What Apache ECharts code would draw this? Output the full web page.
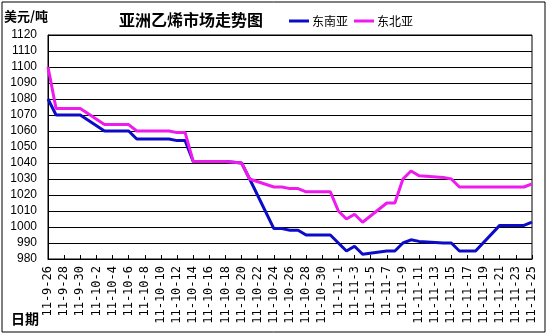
<!DOCTYPE html>
<html>
<head>
<meta charset="utf-8">
<script src="https://cdn.jsdelivr.net/npm/echarts@6/dist/echarts.min.js"></script>
<style>
html,body{margin:0;padding:0;background:#fff;}
#chart{width:549px;height:335px;}
</style>
</head>
<body>
<div id="chart"></div>
<script>
// Daily dates (year-month-day), every calendar day from 2011-9-26 to 2011-11-25
var dates = [
  '11-9-26','11-9-27','11-9-28','11-9-29','11-9-30',
  '11-10-1','11-10-2','11-10-3','11-10-4','11-10-5','11-10-6','11-10-7','11-10-8','11-10-9','11-10-10',
  '11-10-11','11-10-12','11-10-13','11-10-14','11-10-15','11-10-16','11-10-17','11-10-18','11-10-19','11-10-20',
  '11-10-21','11-10-22','11-10-23','11-10-24','11-10-25','11-10-26','11-10-27','11-10-28','11-10-29','11-10-30','11-10-31',
  '11-11-1','11-11-2','11-11-3','11-11-4','11-11-5','11-11-6','11-11-7','11-11-8','11-11-9','11-11-10',
  '11-11-11','11-11-12','11-11-13','11-11-14','11-11-15','11-11-16','11-11-17','11-11-18','11-11-19','11-11-20',
  '11-11-21','11-11-22','11-11-23','11-11-24','11-11-25'
];

// Ethylene prices, USD/ton; null = no quote that day (weekends / holidays)
var southeastAsia = [
  1080,1070,1070,1070,1070,
  null,null,1060,1060,1060,1060,1055,null,null,1055,
  1055,1054,1054,1041,null,null,1041,1041,null,1040,
  1030,null,null,999,999,998,998,995,null,null,995,
  990,985,988,983,null,null,985,985,990,992,
  991,null,null,990,990,985,985,985,null,null,
  1001,1001,1001,1001,1003
];
var northeastAsia = [
  1100,1074,1074,1074,1074,
  null,null,1064,1064,1064,1064,1060,null,null,1060,
  1060,1059,1059,1041,null,null,1041,1041,null,1040,
  1030,null,null,1025,1025,1024,1024,1022,null,null,1022,
  1010,1005,1008,1003,null,null,1015,1015,1030,1035,
  1032,null,null,1031,1030,1025,1025,1025,null,null,
  1025,1025,1025,1025,1027
];

var seriesNames = ['东南亚', '东北亚'];
var yMin = 980, yMax = 1120, yStep = 10;

var chart = echarts.init(document.getElementById('chart'));
var cjk = '"Noto Sans CJK SC", sans-serif';

chart.setOption({
  backgroundColor: '#ffffff',
  animation: false,
  title: {
    text: '亚洲乙烯市场走势图',
    left: 114, top: 7,
    textStyle: { fontFamily: cjk, fontSize: 16, fontWeight: 'bold', color: '#000' }
  },
  legend: {
    data: seriesNames,
    left: 284, top: 10,
    icon: 'rect',
    itemWidth: 20, itemHeight: 3,
    itemGap: 6,
    textStyle: { fontFamily: cjk, fontSize: 12, color: '#000', padding: [0, 0, 0, -2] }
  },
  graphic: [
    { type: 'rect', shape: { x: 2, y: 2, width: 543, height: 330 },
      style: { fill: 'none', stroke: '#000', lineWidth: 1 }, silent: true },
    { type: 'text', left: 4, top: 10,
      style: { text: '美元/吨', font: 'bold 13px "Noto Sans CJK SC", sans-serif', fill: '#000' } },
    { type: 'text', left: 11, top: 312,
      style: { text: '日期', font: 'bold 14px "Noto Sans CJK SC", sans-serif', fill: '#000' } }
  ],
  grid: {
    left: 48, right: 17, top: 35, bottom: 76,
    show: true, borderColor: '#000', borderWidth: 1, backgroundColor: '#fff'
  },
  xAxis: {
    type: 'category',
    data: dates,
    boundaryGap: false,
    axisLine: { lineStyle: { color: '#000', width: 1 } },
    axisTick: { inside: true, length: 4, interval: 1, lineStyle: { color: '#000' } },
    axisLabel: {
      interval: 1, rotate: 90, margin: 7,
      fontFamily: '"DejaVu Sans Mono", monospace', fontSize: 12, color: '#000'
    },
    splitLine: { show: false }
  },
  yAxis: {
    type: 'value',
    min: yMin, max: yMax, interval: yStep,
    axisLine: { show: true, lineStyle: { color: '#000', width: 1 } },
    axisTick: { show: false },
    axisLabel: {
      margin: 11, formatter: function (v) { return String(v); },
      fontFamily: '"Liberation Sans", Arial, sans-serif', fontSize: 12, color: '#000'
    },
    splitLine: { lineStyle: { color: '#000', width: 1 } }
  },
  series: [
    {
      name: seriesNames[0], type: 'line', data: southeastAsia,
      connectNulls: true, showSymbol: false, symbol: 'none',
      lineStyle: { color: '#0c0cc8', width: 3 }, itemStyle: { color: '#0c0cc8' }, z: 2
    },
    {
      name: seriesNames[1], type: 'line', data: northeastAsia,
      connectNulls: true, showSymbol: false, symbol: 'none',
      lineStyle: { color: '#ee1aee', width: 3 }, itemStyle: { color: '#ee1aee' }, z: 3
    }
  ]
});
</script>
</body>
</html>
